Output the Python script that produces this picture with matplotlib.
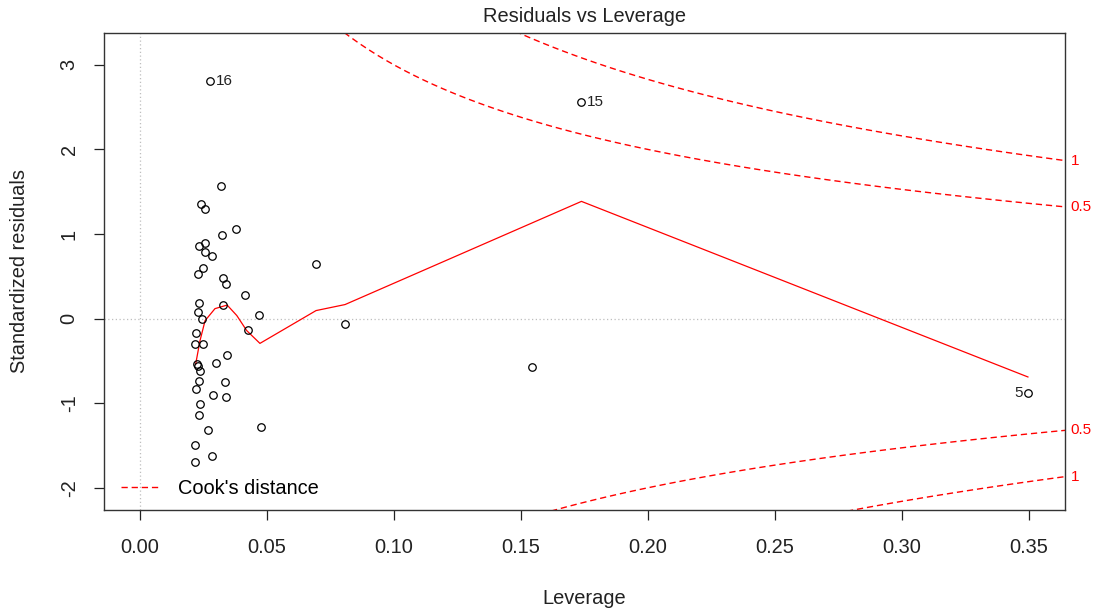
import numpy as np
import matplotlib
matplotlib.use('Agg')
import matplotlib.pyplot as plt
from matplotlib.transforms import blended_transform_factory

plt.rcParams['font.family'] = ['Liberation Sans', 'DejaVu Sans']

# leverage / standardized residuals
lev = [0.0275, 0.1738, 0.3496, 0.0692, 0.0806, 0.1545,
       0.0317, 0.0240, 0.0257, 0.0377, 0.0322, 0.0231, 0.0257, 0.0256,
       0.0283, 0.0247, 0.0227, 0.0328, 0.0338, 0.0414, 0.0231, 0.0328,
       0.0227, 0.0243, 0.0469, 0.0221, 0.0424, 0.0217, 0.0249, 0.0342,
       0.0226, 0.0229, 0.0298, 0.0237, 0.0231, 0.0333, 0.0221, 0.0286,
       0.0338, 0.0237, 0.0231, 0.0475, 0.0266, 0.0217, 0.0282, 0.0217]
res = [2.81, 2.56, -0.877, 0.640, -0.059, -0.569,
       1.564, 1.354, 1.295, 1.058, 0.983, 0.861, 0.897, 0.786,
       0.735, 0.601, 0.525, 0.482, 0.415, 0.281, 0.190, 0.162,
       0.083, -0.008, 0.039, -0.166, -0.130, -0.296, -0.296, -0.435,
       -0.533, -0.557, -0.525, -0.620, -0.738, -0.755, -0.833, -0.909,
       -0.928, -1.004, -1.137, -1.276, -1.319, -1.489, -1.623, -1.691]

# labelled observations: (index in arrays, label, side)
id_idx = [0, 1, 2]
id_lab = ['16', '15', '5']
id_side = ['right', 'right', 'left']

# smoother (red line)
smooth_x = [0.0219, 0.0236, 0.0256, 0.0295, 0.0343, 0.0381, 0.0420, 0.0472,
            0.0693, 0.0807, 0.1738, 0.3496]
smooth_y = [-0.537, -0.261, -0.024, 0.118, 0.160, 0.036, -0.142, -0.293,
            0.095, 0.166, 1.386, -0.69]

cook_levels = [0.5, 1]
cook_labels = ['0.5', '1']
n_par = 2

xlim = (-0.0142, 0.3642)
ylim = (-2.263, 3.377)

fig = plt.figure(figsize=(10.99, 6.13), dpi=100)
ax = fig.add_axes([104/1099, 1-510/613, (1065-104)/1099, (510-33)/613])
ax.set_xlim(*xlim)
ax.set_ylim(*ylim)

ax.axhline(0, color='#BEBEBE', lw=0.9, ls=(0, (1, 2)), zorder=1)
ax.axvline(0, color='#BEBEBE', lw=0.9, ls=(0, (1, 2)), zorder=1)

ax.plot(lev, res, 'o', mfc='none', mec='black', ms=5.4, mew=0.9, zorder=3)
ax.plot(smooth_x, smooth_y, color='red', lw=0.9, zorder=2)

# Cook's distance contours, same grid as R's plot.lm
hh = np.linspace(min(min(lev), max(lev)/100), xlim[1], 101)
trans = blended_transform_factory(ax.transAxes, ax.transData)
for crit, clab in zip(cook_levels, cook_labels):
    cl = np.sqrt(crit * n_par * (1 - hh) / hh)
    lab = "Cook's distance" if crit == cook_levels[0] else None
    ax.plot(hh, cl, color='red', lw=1.0, dashes=(4.5, 2.8), label=lab, zorder=2)
    ax.plot(hh, -cl, color='red', lw=1.0, dashes=(4.5, 2.8), zorder=2)
    yend = np.sqrt(crit * n_par * (1 - xlim[1]) / xlim[1])
    for s in (1, -1):
        ax.text(1.006, s * yend, clab, transform=trans, color='red', fontsize=11,
                ha='left', va='center', clip_on=False)

for i, lab, side in zip(id_idx, id_lab, id_side):
    off = 4 if side == 'right' else -4
    ax.annotate(lab, (lev[i], res[i]), xytext=(off, 0), textcoords='offset points',
                ha='left' if side == 'right' else 'right', va='center',
                fontsize=11, color='#222222')

ax.legend(loc='lower left', bbox_to_anchor=(0, -0.011), frameon=False, fontsize=14.4,
          handlelength=1.9, handletextpad=0.95, borderaxespad=0.3, borderpad=0.55)

ax.set_xticks([0.00, 0.05, 0.10, 0.15, 0.20, 0.25, 0.30, 0.35])
ax.set_xticklabels(['0.00', '0.05', '0.10', '0.15', '0.20', '0.25', '0.30', '0.35'])
ax.set_yticks([-2, -1, 0, 1, 2, 3])
ax.set_yticklabels(['-2', '-1', '0', '1', '2', '3'], rotation=90, va='center')
ax.tick_params(axis='both', length=7.2, width=0.9, labelsize=14.4, colors='#222222')
ax.tick_params(axis='x', pad=13)
ax.tick_params(axis='y', pad=11)
for sp in ax.spines.values():
    sp.set_color('#333333')
    sp.set_linewidth(1.0)

fig.text(584.5/1099, 1-17/613, 'Residuals vs Leverage', ha='center', va='center',
         fontsize=14.4, color='#222222')
fig.text(584.5/1099, 1-598/613, 'Leverage', ha='center', va='center',
         fontsize=14.4, color='#222222')
fig.text(20/1099, 1-271.5/613, 'Standardized residuals', ha='center', va='center',
         rotation=90, fontsize=14.4, color='#222222')

fig.savefig('out.png', dpi=100)
